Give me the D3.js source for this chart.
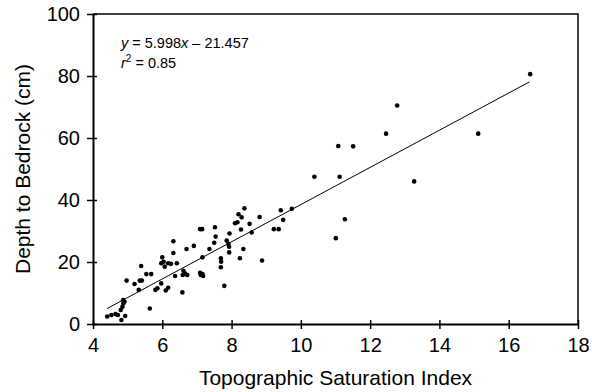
<!DOCTYPE html>
<html>
<head>
<meta charset="utf-8">
<script src="https://cdn.jsdelivr.net/npm/d3@7"></script>
<style>
  body { margin: 0; background: #fff; }
  text { font-family: "Liberation Sans", Arial, Helvetica, sans-serif; fill: #000; }
</style>
</head>
<body>
<div id="chart"></div>
<script>
// Topographic saturation index (x) and depth to bedrock in cm (y)
var tsi = [4.41, 4.53, 4.65, 4.72, 4.82, 4.93, 4.80, 4.85, 4.88, 4.91, 4.87, 5.64,
  4.97, 5.20, 5.35, 5.41, 5.32, 5.39, 5.54, 5.68, 5.80, 5.86, 5.97, 6.10, 6.17,
  6.00, 6.04, 5.97, 6.07, 6.17, 6.25, 6.42, 6.32, 6.32, 6.37, 6.58, 6.61, 6.66,
  6.72, 6.59, 6.70, 6.91, 7.09, 7.16, 7.18, 7.11, 7.16, 7.36, 7.09, 7.15, 7.52,
  7.54, 7.50, 7.69, 7.70, 7.69, 7.79, 7.93, 7.86, 7.91, 7.93, 7.94, 8.24, 8.34,
  8.27, 8.10, 8.17, 8.20, 8.29, 8.37, 8.52, 8.58, 8.81, 8.88, 9.22, 9.36, 9.42,
  9.49, 9.74, 10.39, 11.01, 11.08, 11.12, 11.27, 11.51, 12.46, 12.78, 13.27,
  15.12, 16.62];
var depth = [2.4, 2.9, 3.2, 2.9, 1.3, 2.6, 4.5, 5.6, 6.7, 7.2, 7.7, 5.0,
  14.0, 12.9, 14.0, 14.0, 11.0, 18.7, 16.1, 16.1, 11.0, 11.5, 13.1, 10.8, 11.7,
  21.5, 20.1, 19.6, 18.5, 19.6, 19.4, 19.6, 22.9, 26.7, 15.5, 10.2, 17.2, 16.3,
  15.8, 15.8, 24.2, 25.2, 16.5, 16.1, 15.5, 15.8, 21.5, 24.2, 30.6, 30.6, 31.2,
  28.2, 26.2, 21.2, 20.1, 18.3, 12.3, 23.1, 26.9, 25.8, 24.9, 29.2, 21.2, 24.2,
  30.5, 32.5, 32.8, 35.4, 34.4, 37.3, 32.3, 29.5, 34.5, 20.5, 30.6, 30.6, 36.7,
  33.6, 37.2, 47.5, 27.7, 57.4, 47.5, 33.8, 57.3, 61.4, 70.5, 46.0,
  61.4, 80.6];

// fitted line y = 5.998x - 21.457 over the data range
var slope = 5.998, intercept = -21.457;
var fitRange = [4.4, 16.6];

var xTicks = [4, 6, 8, 10, 12, 14, 16, 18];
var yTicks = [0, 20, 40, 60, 80, 100];

const width = 592, height = 392;
const margin = { top: 14, right: 14, bottom: 68, left: 93 };
const w = width - margin.left - margin.right,
  h = height - margin.top - margin.bottom;

var x = d3.scaleLinear().domain([4, 18]).range([0, w]);
var y = d3.scaleLinear().domain([0, 100]).range([h, 0]);

const svg = d3.select("#chart").append("svg")
  .attr("width", width)
  .attr("height", height)
  .append("g")
  .attr("transform", "translate(" + margin.left + "," + margin.top + ")");

// frame (top and right)
svg.append("path")
  .attr("d", "M0,0H" + w + "V" + h)
  .attr("fill", "none")
  .attr("stroke", "#000")
  .attr("stroke-width", 1.5);

// x axis, ticks crossing the line
var xAxis = d3.axisBottom(x).tickValues(xTicks).tickSizeInner(5).tickSizeOuter(0).tickPadding(9);
var gx = svg.append("g")
  .attr("transform", "translate(0," + h + ")")
  .call(xAxis);
gx.selectAll(".tick line").attr("y1", -4).attr("stroke-width", 1.5);
gx.select(".domain").attr("stroke-width", 2);
gx.selectAll("text").attr("font-size", 20).attr("font-family", null);

var yAxis = d3.axisLeft(y).tickValues(yTicks).tickSizeInner(6).tickSizeOuter(0).tickPadding(7);
var gy = svg.append("g").call(yAxis);
gy.selectAll(".tick line").attr("x1", 4).attr("stroke-width", 1.5);
gy.select(".domain").attr("stroke-width", 2);
gy.selectAll("text").attr("font-size", 20).attr("font-family", null);

// regression line
svg.append("line")
  .attr("x1", x(fitRange[0]))
  .attr("y1", y(slope * fitRange[0] + intercept))
  .attr("x2", x(fitRange[1]))
  .attr("y2", y(slope * fitRange[1] + intercept))
  .attr("stroke", "#000")
  .attr("stroke-width", 1);

// points
svg.append("g").selectAll("circle")
  .data(tsi)
  .enter().append("circle")
  .attr("cx", function (d) { return x(d); })
  .attr("cy", function (d, i) { return y(depth[i]); })
  .attr("r", 2.3)
  .attr("fill", "#000");

// equation
var eq = svg.append("text").attr("x", 28).attr("y", 34).attr("font-size", 14.5);
eq.append("tspan").attr("font-style", "italic").text("y");
eq.append("tspan").text(" = 5.998");
eq.append("tspan").attr("font-style", "italic").text("x");
eq.append("tspan").text(" \u2013 21.457");

var r2 = svg.append("text").attr("x", 28).attr("y", 54).attr("font-size", 14.5);
r2.append("tspan").attr("font-style", "italic").text("r");
r2.append("tspan").attr("font-size", 10).attr("dy", -6).text("2");
r2.append("tspan").attr("dy", 6).text(" = 0.85");

// axis titles
svg.append("text")
  .attr("text-anchor", "middle")
  .attr("x", w / 2)
  .attr("y", h + 61)
  .attr("font-size", 21)
  .text("Topographic Saturation Index");

svg.append("text")
  .attr("text-anchor", "middle")
  .attr("transform", "rotate(-90)")
  .attr("x", -h / 2)
  .attr("y", -63)
  .attr("font-size", 21)
  .text("Depth to Bedrock (cm)");
</script>
</body>
</html>
